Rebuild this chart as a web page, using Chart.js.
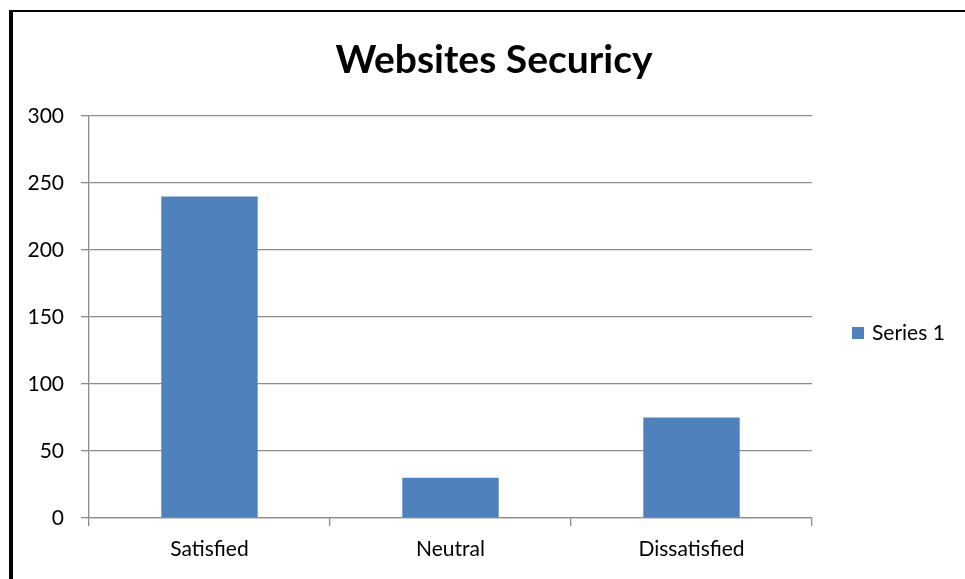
<!DOCTYPE html>
<html>
<head>
<meta charset="utf-8">
<script src="https://cdn.jsdelivr.net/npm/chart.js@4"></script>
<style>
    html, body { margin: 0; padding: 0; background: #fff; }
    #wrap { width: 965px; height: 579px; position: relative; }
</style>
</head>
<body>
<div id="wrap"><canvas id="securityChart"></canvas></div>
<script>
// ─── Data ───
const categories = ['Satisfied', 'Neutral', 'Dissatisfied'];
const series1 = [240, 30, 75];
const yTicks = [0, 50, 100, 150, 200, 250, 300];
const chartTitle = 'Websites Securicy';

const FONT = 'Lato, "Open Sans", sans-serif';
const BAR_BLUE = '#4F81BD';
const GRID_GRAY = '#8C8C8C';

// frame around the figure: heavy left edge + top rule, and the heading
const framePlugin = {
    id: 'frame',
    afterDraw(chart) {
        const c = chart.ctx;
        c.save();
        c.fillStyle = '#000';
        c.fillRect(9, 10, 4, chart.height - 10);
        c.fillRect(9, 10, chart.width - 9, 2);
        c.font = 'bold 39px ' + FONT;
        c.textAlign = 'center';
        c.textBaseline = 'middle';
        c.fillText(chartTitle, 494, 60);
        c.restore();
    }
};

// legend on the right, centred on the plot
const sideLegend = {
    id: 'sideLegend',
    afterDraw(chart) {
        const c = chart.ctx;
        const area = chart.chartArea;
        const midY = (area.top + area.bottom) / 2 + 16;
        chart.data.datasets.forEach((ds, i) => {
            const y = midY + i * 26;
            c.save();
            c.fillStyle = ds.backgroundColor;
            c.fillRect(852, y - 6, 12, 12);
            c.fillStyle = '#000';
            c.font = '21px ' + FONT;
            c.textBaseline = 'middle';
            c.fillText(ds.label, 872, y);
            c.restore();
        });
    }
};

const ctx = document.getElementById('securityChart').getContext('2d');
new Chart(ctx, {
    type: 'bar',
    data: {
        labels: categories,
        datasets: [{
            label: 'Series 1',
            data: series1,
            backgroundColor: BAR_BLUE,
            borderWidth: 0,
            categoryPercentage: 1,
            barPercentage: 0.4
        }]
    },
    options: {
        responsive: true,
        maintainAspectRatio: false,
        animation: false,
        layout: { padding: { left: 24, right: 153, top: 116, bottom: 0 } },
        scales: {
            y: {
                min: 0,
                max: 300,
                afterBuildTicks: axis => { axis.ticks = yTicks.map(v => ({ value: v })); },
                afterFit: axis => { axis.width = 65; },
                ticks: {
                    color: '#000',
                    padding: 17,
                    font: { family: FONT, size: 21 }
                },
                grid: { color: GRID_GRAY, lineWidth: 1.3, tickLength: 8 },
                border: { color: GRID_GRAY, width: 1.3 }
            },
            x: {
                afterFit: axis => { axis.height = 61; },
                ticks: {
                    color: '#000',
                    padding: 11,
                    font: { family: FONT, size: 21 }
                },
                grid: { color: GRID_GRAY, lineWidth: 1.3, tickLength: 8, drawOnChartArea: false },
                border: { color: GRID_GRAY, width: 1.3 }
            }
        },
        plugins: {
            legend: { display: false },
            tooltip: { enabled: false },
            title: { display: false }
        }
    },
    plugins: [framePlugin, sideLegend]
});
</script>
</body>
</html>
